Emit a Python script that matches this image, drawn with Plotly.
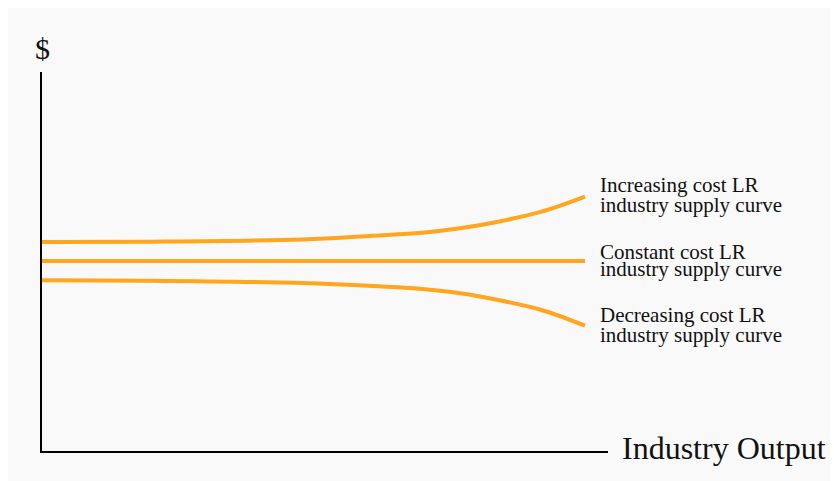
import plotly.graph_objects as go

# Data (x: industry output, y: price level in arbitrary units)
x_vals = [0, 20, 48, 61, 70, 77, 84, 92, 100]
increasing = [209, 209.3, 211.5, 215.3, 218.3, 222.7, 229.3, 239.3, 254.3]
constant = [190, 190, 190, 190, 190, 190, 190, 190, 190]
decreasing = [170.7, 170.3, 168, 165, 162, 157.7, 151, 141, 125.3]

label_lines = {
    "inc": ["Increasing cost LR", "industry supply curve"],
    "con": ["Constant cost LR", "industry supply curve"],
    "dec": ["Decreasing cost LR", "industry supply curve"],
}

ORANGE = "#FFA51E"
BG = "#f9f9f9"
FONT = "Liberation Serif, Times New Roman, serif"

fig = go.Figure()
for ys in (increasing, constant, decreasing):
    fig.add_trace(go.Scatter(x=x_vals, y=ys, mode="lines",
                             line=dict(color=ORANGE, width=4, shape="spline", smoothing=1.0),
                             hoverinfo="skip", showlegend=False))

OFF = 8  # page offset of the figure
W, H = 830, 473
L, R, T, B = 34, 230, 64, 30
pw, ph = W - L - R, H - T - B

def px_to_paper_x(px):
    return (px - OFF - L) / pw

def px_to_paper_y(py):
    return (H - B - (py - OFF)) / ph

annotations = []
label_y = {"inc": (185, 205), "con": (252, 269), "dec": (315, 335)}
for key, lines in label_lines.items():
    for line, py in zip(lines, label_y[key]):
        annotations.append(dict(text=line, x=px_to_paper_x(598), y=px_to_paper_y(py),
                                xref="paper", yref="paper", xanchor="left", yanchor="middle",
                                showarrow=False, font=dict(family=FONT, size=21, color="#111")))

annotations.append(dict(text="$", x=px_to_paper_x(42), y=px_to_paper_y(49), xref="paper", yref="paper",
                        xanchor="center", yanchor="middle", showarrow=False,
                        font=dict(family=FONT, size=30, color="#111")))
annotations.append(dict(text="Industry Output", x=px_to_paper_x(620), y=px_to_paper_y(448),
                        xref="paper", yref="paper", xanchor="left", yanchor="middle", showarrow=False,
                        font=dict(family=FONT, size=32, color="#111")))

fig.update_layout(
    width=W, height=H,
    margin=dict(l=L, r=R, t=T, b=B),
    paper_bgcolor=BG,
    plot_bgcolor=BG,
    annotations=annotations,
    xaxis=dict(range=[0, 100 * pw / 543], showgrid=False, zeroline=False, showticklabels=False,
               ticks="", showline=True, linecolor="black", linewidth=2, fixedrange=True),
    yaxis=dict(range=[0, ph], showgrid=False, zeroline=False, showticklabels=False,
               ticks="", showline=True, linecolor="black", linewidth=2, fixedrange=True),
)

fig.write_html("out.html", config={"displayModeBar": False})
